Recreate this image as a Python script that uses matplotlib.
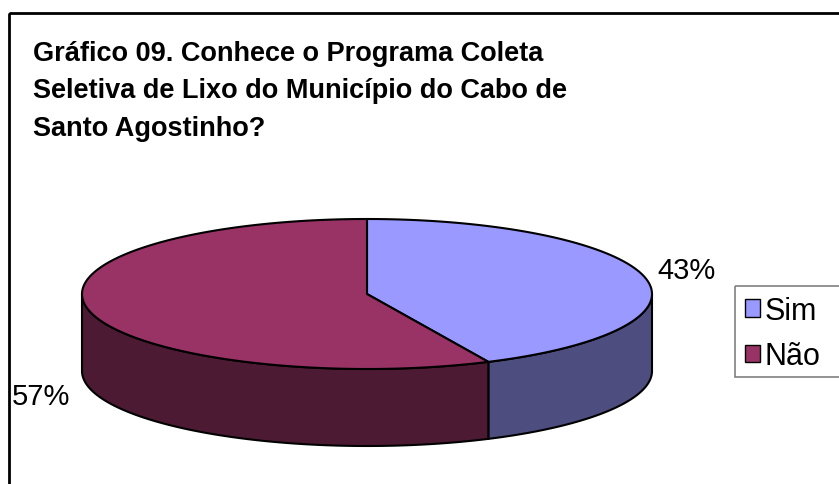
import numpy as np
import matplotlib
matplotlib.use('Agg')
import matplotlib.pyplot as plt
from matplotlib.patches import Polygon, Rectangle, Patch

plt.rcParams['font.family'] = ['Liberation Sans', 'DejaVu Sans']

title_lines = ["Gráfico 09. Conhece o Programa Coleta",
               "Seletiva de Lixo do Município do Cabo de",
               "Santo Agostinho?"]
labels = ["Sim", "Não"]
shares = [43, 57]
top_colors = ["#9999FF", "#993366"]
side_colors = ["#4D4D80", "#4D1A33"]

W, H = 839, 485
fig = plt.figure(figsize=(W / 100, H / 100), dpi=100)
ax = fig.add_axes([0, 0, 1, 1])
ax.set_xlim(0, W)
ax.set_ylim(H, 0)
ax.axis('off')

# outer chart frame (right/bottom edges fall outside)
ax.add_patch(Rectangle((9, 14), W, H, fill=False, edgecolor='black', lw=2))

for i, line in enumerate(title_lines):
    ax.text(33, 61 + 37.5 * i, line, fontsize=19.5, fontweight='bold', ha='left', va='baseline')

# pie geometry
cx, cy = 367, 295
a, b = 285, 75
depth = 77


def ell(t):
    return cx + a * np.cos(t), cy - b * np.sin(t)


# slices go clockwise from 12 o'clock
fracs = np.array(shares) / sum(shares)
starts = np.pi / 2 - 2 * np.pi * np.concatenate([[0], np.cumsum(fracs)[:-1]])
ends = starts - 2 * np.pi * fracs

# side walls (front half only)
for s, e, col in zip(starts, ends, side_colors):
    lo, hi = min(s, e), max(s, e)
    # front half is where sin(t) < 0
    segs = []
    for k in range(-1, 2):
        f0, f1 = np.pi + 2 * np.pi * k, 2 * np.pi + 2 * np.pi * k
        l2, h2 = max(lo, f0), min(hi, f1)
        if h2 > l2:
            segs.append((l2, h2))
    for l2, h2 in segs:
        t = np.linspace(l2, h2, 100)
        xs, ys = ell(t)
        pts = np.column_stack([np.r_[xs, xs[::-1]], np.r_[ys, ys[::-1] + depth]])
        ax.add_patch(Polygon(pts, closed=True, facecolor=col, edgecolor='black', lw=1.5))

# top faces
for s, e, col in zip(starts, ends, top_colors):
    t = np.linspace(s, e, 200)
    xs, ys = ell(t)
    pts = np.column_stack([np.r_[cx, xs], np.r_[cy, ys]])
    ax.add_patch(Polygon(pts, closed=True, facecolor=col, edgecolor='black', lw=1.5, joinstyle='round'))

# percentage labels
ax.text(657, 271, f"{shares[0]}%", fontsize=21, ha='left', va='center')
ax.text(12, 397, f"{shares[1]}%", fontsize=21, ha='left', va='center')

# legend box runs past the right edge
ax.add_patch(Rectangle((735, 287), 200, 91, fill=False, edgecolor='#808080', lw=1.2))
handles = [Patch(facecolor=c, edgecolor='black', lw=1) for c in top_colors]
leg = ax.legend(handles, labels, loc='upper left', bbox_to_anchor=(735 / W, 1 - 287 / H),
                bbox_transform=fig.transFigure, fontsize=22, frameon=False,
                handlelength=0.5, handleheight=0.5, handletextpad=0.15, labelspacing=0.5,
                borderpad=0.32, borderaxespad=0)

fig.savefig('out.png', dpi=100)
